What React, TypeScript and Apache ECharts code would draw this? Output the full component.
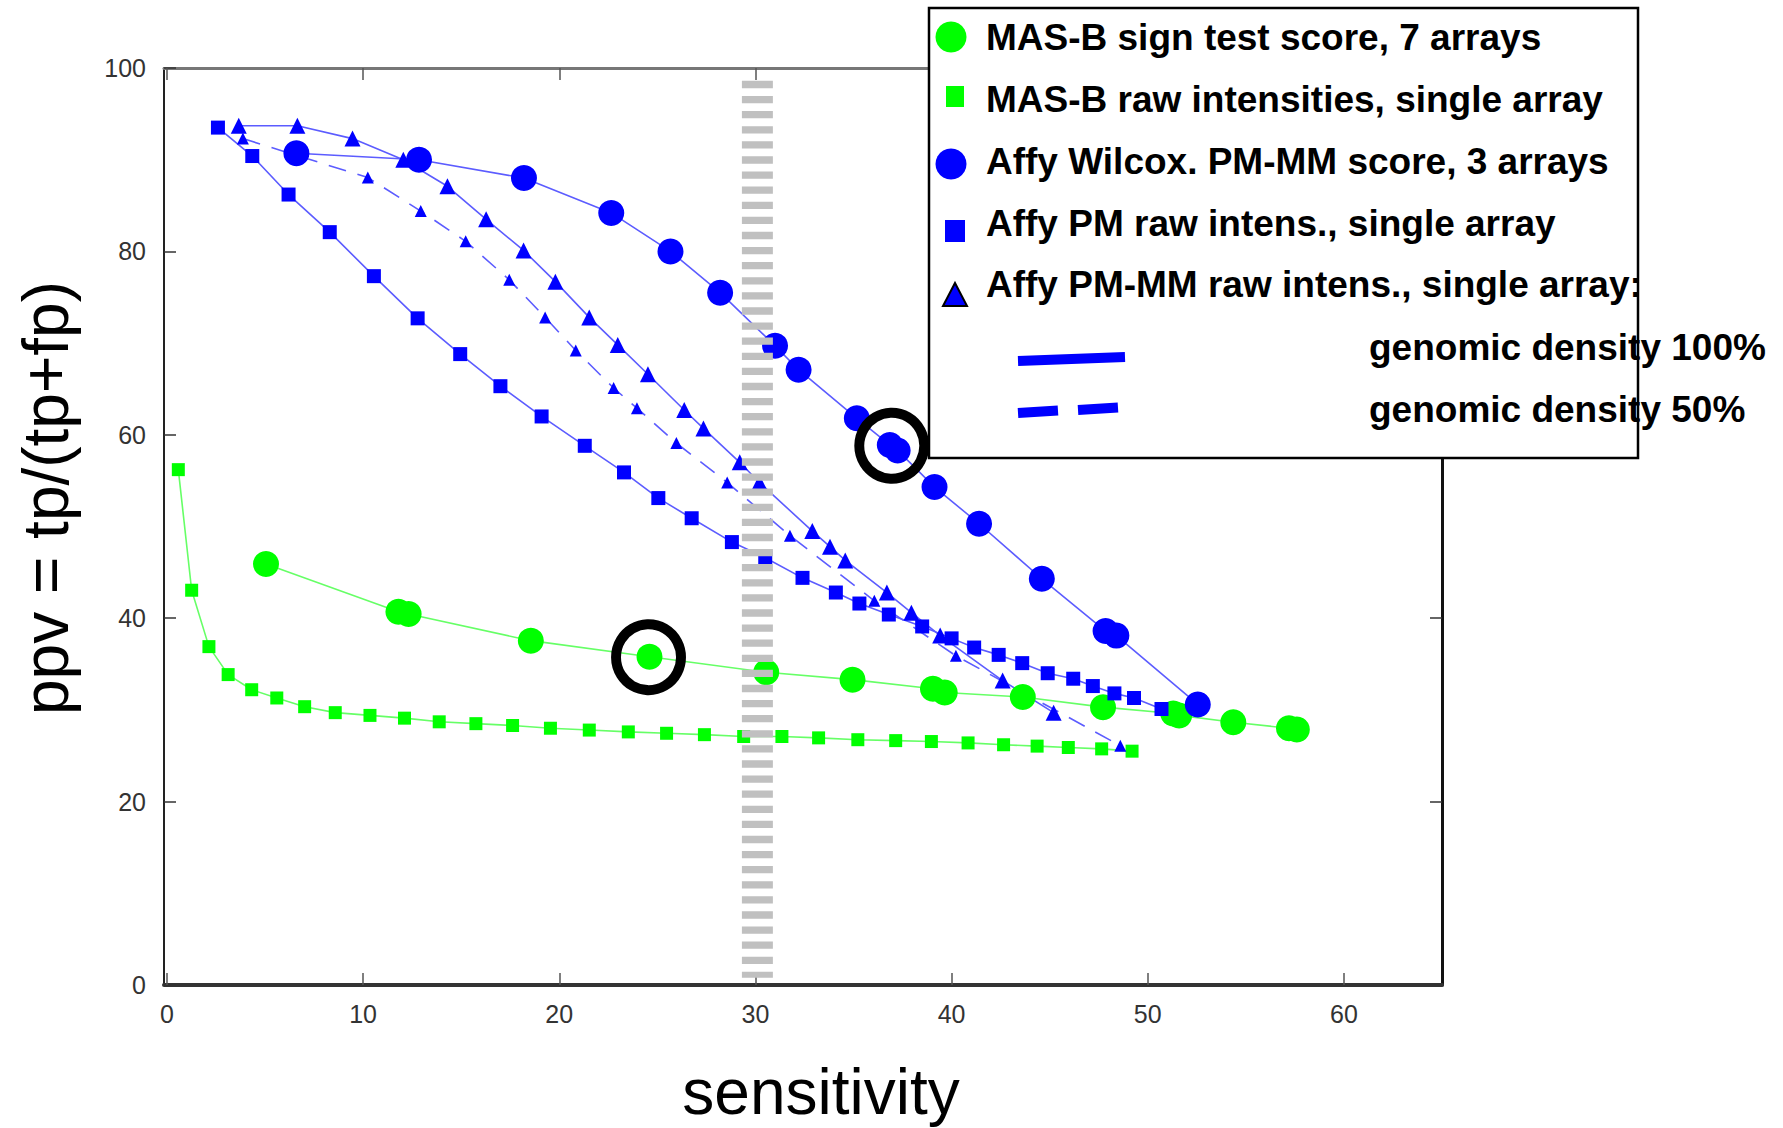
import React, { useEffect, useRef } from "react";
import * as echarts from "echarts";

// ---------- data ----------
const xTickValues = [0, 10, 20, 30, 40, 50, 60];

// MAS-B sign test score, 7 arrays (green circles)
const masbSignX = [5.05, 11.8, 12.32, 18.55, 24.6, 30.55, 34.95, 39.05, 39.65, 43.63, 47.72, 51.3, 51.6, 54.36, 57.2, 57.6];
const masbSignY = [45.9, 40.7, 40.45, 37.55, 35.8, 34.1, 33.3, 32.3, 31.9, 31.4, 30.3, 29.6, 29.4, 28.65, 28.0, 27.85];

// MAS-B raw intensities, single array (green squares)
const masbRawX = [0.58, 1.26, 2.14, 3.12, 4.32, 5.6, 7.02, 8.58, 10.35, 12.11, 13.88, 15.75, 17.62, 19.55, 21.53, 23.52, 25.47, 27.4, 29.4, 31.35, 33.22, 35.22, 37.15, 38.97, 40.84, 42.65, 44.36, 45.95, 47.65, 49.2];
const masbRawY = [56.2, 43.05, 36.9, 33.85, 32.2, 31.3, 30.35, 29.7, 29.4, 29.1, 28.7, 28.5, 28.3, 28.0, 27.8, 27.6, 27.45, 27.3, 27.1, 27.1, 26.95, 26.75, 26.65, 26.55, 26.4, 26.2, 26.05, 25.9, 25.75, 25.5];

// Affy Wilcox. PM-MM score, 3 arrays (blue circles)
const wilcoxX = [6.6, 12.85, 18.2, 22.65, 25.67, 28.2, 31.0, 32.2, 35.17, 36.85, 37.25, 39.13, 41.4, 44.6, 47.85, 48.4, 52.55];
const wilcoxY = [90.7, 90.0, 88.0, 84.2, 80.0, 75.5, 69.7, 67.1, 61.8, 58.9, 58.3, 54.3, 50.3, 44.3, 38.6, 38.1, 30.6];

// Affy PM raw intens., single array (blue squares)
const pmRawX = [2.6, 4.35, 6.2, 8.3, 10.55, 12.78, 14.95, 17.0, 19.1, 21.3, 23.3, 25.05, 26.75, 28.8, 30.5, 32.4, 34.1, 35.3, 36.8, 38.5, 40.0, 41.15, 42.4, 43.6, 44.9, 46.2, 47.2, 48.3, 49.3, 50.7];
const pmRawY = [93.5, 90.4, 86.2, 82.1, 77.3, 72.7, 68.8, 65.3, 62.0, 58.8, 55.9, 53.1, 50.9, 48.3, 46.6, 44.4, 42.8, 41.6, 40.4, 39.1, 37.8, 36.8, 36.0, 35.1, 34.0, 33.4, 32.6, 31.8, 31.3, 30.1];

// Affy PM-MM raw intens., single array, genomic density 100% (solid, triangles)
const pmmmFullX = [3.66, 6.65, 9.46, 12.05, 14.3, 16.27, 18.18, 19.8, 21.53, 22.98, 24.52, 26.37, 27.35, 29.2, 30.2, 32.9, 33.8, 34.58, 36.7, 37.95, 39.42, 42.6, 45.2];
const pmmmFullY = [93.7, 93.7, 92.3, 90.0, 87.1, 83.5, 80.1, 76.7, 72.8, 69.8, 66.6, 62.7, 60.7, 57.0, 54.8, 49.5, 47.8, 46.3, 42.8, 40.6, 38.1, 33.2, 29.7];

// Affy PM-MM raw intens., single array, genomic density 50% (dashed, triangles)
const pmmmHalfX = [3.87, 10.24, 12.94, 15.23, 17.45, 19.28, 20.84, 22.77, 23.96, 25.97, 28.56, 31.76, 36.06, 40.22, 48.6];
const pmmmHalfY = [92.3, 88.05, 84.4, 81.1, 76.9, 72.8, 69.2, 65.1, 62.9, 59.1, 54.8, 49.0, 41.9, 35.9, 26.1];

// circled points
const circledX = [36.95, 24.55];
const circledY = [58.8, 35.75];

// gray cut-off band at sensitivity 30
const cutoffX = [30.1, 30.1];
const cutoffY = [98.6, 0.8];

const legendLabels = [
  "MAS-B sign test score, 7 arrays",
  "MAS-B raw intensities, single array",
  "Affy Wilcox. PM-MM score, 3 arrays",
  "Affy PM raw intens., single array",
  "Affy PM-MM raw intens., single array:",
];
const densityLabels = ["genomic density 100%", "genomic density 50%"];

const xTitle = "sensitivity";
const yTitle = "ppv = tp/(tp+fp)";

// ---------- helpers ----------
const zip = (xs: number[], ys: number[]) => xs.map((x, i) => [x, ys[i]]);

const FONT = "'Liberation Sans', Arial, Helvetica, sans-serif";
const BLUE = "#0000ff";
const GREEN = "#00ff00";
const BLUE_LINE = "#5c5cff";
const GREEN_LINE = "#66ff66";

export default function App() {
  const ref = useRef<HTMLDivElement>(null);

  useEffect(() => {
    if (!ref.current) return;
    const chart = echarts.init(ref.current, undefined, { renderer: "svg" });

    const legendRowY = [37, 99, 161, 223, 284];
    const densityRowY = [347, 409];

    const graphic: any[] = [
      {
        type: "rect",
        z: 100,
        shape: { x: 929, y: 8, width: 709, height: 450 },
        style: { fill: "#fff", stroke: "#000", lineWidth: 2.5 },
      },
      { type: "circle", z: 101, shape: { cx: 951, cy: 37, r: 15.5 }, style: { fill: GREEN } },
      { type: "rect", z: 101, shape: { x: 946, y: 86, width: 18, height: 21 }, style: { fill: GREEN } },
      { type: "circle", z: 101, shape: { cx: 951, cy: 164, r: 15.5 }, style: { fill: BLUE } },
      { type: "rect", z: 101, shape: { x: 945, y: 220, width: 20, height: 22 }, style: { fill: BLUE } },
      {
        type: "polygon",
        z: 101,
        shape: { points: [[955, 283], [967, 306], [943, 306]] },
        style: { fill: BLUE, stroke: "#000", lineWidth: 2 },
      },
      {
        type: "line",
        z: 101,
        shape: { x1: 1018, y1: 361, x2: 1125, y2: 357 },
        style: { stroke: BLUE, lineWidth: 10 },
      },
      {
        type: "line",
        z: 101,
        shape: { x1: 1018, y1: 413, x2: 1058, y2: 410.5 },
        style: { stroke: BLUE, lineWidth: 10 },
      },
      {
        type: "line",
        z: 101,
        shape: { x1: 1078, y1: 410, x2: 1118, y2: 407.5 },
        style: { stroke: BLUE, lineWidth: 10 },
      },
      ...legendLabels.map((t, i) => ({
        type: "text",
        z: 102,
        x: 986,
        y: legendRowY[i],
        style: {
          text: t,
          fill: "#000",
          font: `bold 37px ${FONT}`,
          align: "left",
          verticalAlign: "middle",
        },
      })),
      ...densityLabels.map((t, i) => ({
        type: "text",
        z: 102,
        x: 1369,
        y: densityRowY[i],
        style: {
          text: t,
          fill: "#000",
          font: `bold 37px ${FONT}`,
          align: "left",
          verticalAlign: "middle",
        },
      })),
      {
        type: "text",
        z: 50,
        x: 821,
        y: 1092,
        style: {
          text: xTitle,
          fill: "#000",
          font: `64px ${FONT}`,
          align: "center",
          verticalAlign: "middle",
        },
      },
      {
        type: "text",
        z: 50,
        x: 46,
        y: 498,
        rotation: Math.PI / 2,
        style: {
          text: yTitle,
          fill: "#000",
          font: `64px ${FONT}`,
          align: "center",
          verticalAlign: "middle",
        },
      },
    ];

    const xMin = -0.15;
    const xMax = 65;

    const option: any = {
      animation: false,
      backgroundColor: "#fff",
      grid: { left: 164, right: 341, top: 68, bottom: 143, containLabel: false },
      xAxis: [
        {
          type: "value",
          position: "bottom",
          min: xMin,
          max: xMax,
          axisLine: { show: true, onZero: false, lineStyle: { color: "#333", width: 4 } },
          axisTick: {
            show: true,
            inside: true,
            length: 12,
            customValues: xTickValues,
            lineStyle: { color: "#555", width: 1.5 },
          },
          axisLabel: {
            show: true,
            customValues: xTickValues,
            fontSize: 25,
            fontFamily: FONT,
            color: "#333",
            margin: 16,
          },
          splitLine: { show: false },
        },
        {
          type: "value",
          position: "top",
          min: xMin,
          max: xMax,
          axisLine: { show: true, onZero: false, lineStyle: { color: "#777", width: 3 } },
          axisTick: {
            show: true,
            inside: true,
            length: 12,
            customValues: xTickValues,
            lineStyle: { color: "#555", width: 1.5 },
          },
          axisLabel: { show: false },
          splitLine: { show: false },
        },
      ],
      yAxis: [
        {
          type: "value",
          position: "left",
          min: 0,
          max: 100,
          interval: 20,
          axisLine: { show: true, onZero: false, lineStyle: { color: "#222", width: 2 } },
          axisTick: { show: true, inside: true, length: 12, lineStyle: { color: "#333", width: 1.5 } },
          axisLabel: { fontSize: 25, fontFamily: FONT, color: "#333", margin: 18 },
          splitLine: { show: false },
        },
        {
          type: "value",
          position: "right",
          min: 0,
          max: 100,
          interval: 20,
          axisLine: { show: true, onZero: false, lineStyle: { color: "#111", width: 3 } },
          axisTick: { show: true, inside: true, length: 12, lineStyle: { color: "#333", width: 1.5 } },
          axisLabel: { show: false },
          splitLine: { show: false },
        },
      ],
      series: [
        {
          name: "MAS-B raw intensities, single array",
          type: "line",
          data: zip(masbRawX, masbRawY),
          symbol: "rect",
          symbolSize: 13,
          itemStyle: { color: GREEN },
          lineStyle: { color: GREEN_LINE, width: 1.6 },
          z: 3,
        },
        {
          name: "MAS-B sign test score, 7 arrays",
          type: "line",
          data: zip(masbSignX, masbSignY),
          symbol: "circle",
          symbolSize: 26,
          itemStyle: { color: GREEN },
          lineStyle: { color: GREEN_LINE, width: 1.6 },
          z: 3,
        },
        {
          name: "Affy PM-MM raw intens., single array (50%)",
          type: "line",
          data: zip(pmmmHalfX, pmmmHalfY),
          symbol: "triangle",
          symbolSize: 12,
          itemStyle: { color: BLUE },
          lineStyle: { color: BLUE_LINE, width: 1.6, type: [18, 12] },
          z: 3,
        },
        {
          name: "Affy PM-MM raw intens., single array (100%)",
          type: "line",
          data: zip(pmmmFullX, pmmmFullY),
          symbol: "triangle",
          symbolSize: 16,
          itemStyle: { color: BLUE },
          lineStyle: { color: BLUE_LINE, width: 1.6 },
          z: 3,
        },
        {
          name: "Affy PM raw intens., single array",
          type: "line",
          data: zip(pmRawX, pmRawY),
          symbol: "rect",
          symbolSize: 14,
          itemStyle: { color: BLUE },
          lineStyle: { color: BLUE_LINE, width: 1.6 },
          z: 3,
        },
        {
          name: "Affy Wilcox. PM-MM score, 3 arrays",
          type: "line",
          data: zip(wilcoxX, wilcoxY),
          symbol: "circle",
          symbolSize: 26,
          itemStyle: { color: BLUE },
          lineStyle: { color: BLUE_LINE, width: 1.6 },
          z: 3,
        },
        {
          name: "cutoff",
          type: "line",
          data: zip(cutoffX, cutoffY),
          symbol: "none",
          silent: true,
          lineStyle: { color: "#c0c0c0", width: 31, type: [7.3, 7.8], cap: "butt" },
          z: 5,
        },
        {
          name: "circled",
          type: "scatter",
          data: zip(circledX, circledY),
          symbol: "circle",
          symbolSize: [65, 66],
          silent: true,
          itemStyle: { color: "rgba(0,0,0,0)", borderColor: "#000", borderWidth: 10, opacity: 1 },
          emphasis: { disabled: true },
          z: 6,
        },
      ],
      graphic,
    };

    chart.setOption(option);
    return () => chart.dispose();
  }, []);

  return (
    <div
      ref={ref}
      style={{ position: "fixed", left: 0, top: 0, width: 1783, height: 1128, background: "#fff" }}
    />
  );
}
